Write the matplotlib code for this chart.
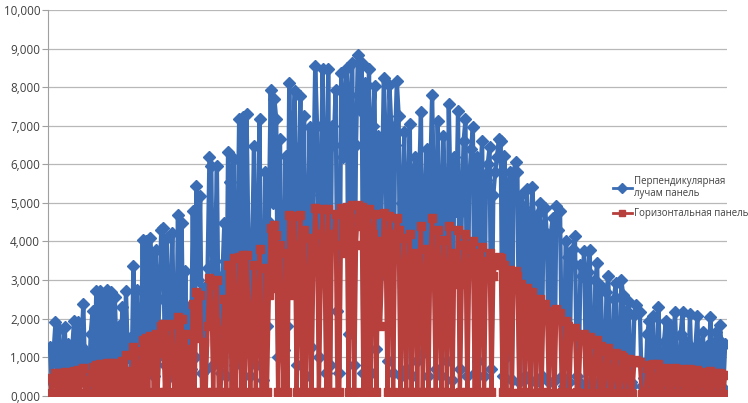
import numpy as np
import matplotlib
matplotlib.use("Agg")
import matplotlib.pyplot as plt

plt.rcParams['font.family'] = ['Open Sans', 'DejaVu Sans']

# daily totals, day 0..364
perpendicular = [
    1260, 350, 1150, 1900, 450, 1720, 300, 1100, 1770, 400,
    1340, 250, 1200, 1950, 650, 1900, 350, 1300, 2370, 500,
    1100, 300, 1600, 2210, 400, 2720, 350, 2720, 450, 2650,
    350, 2750, 500, 2700, 300, 2550, 900, 1800, 300, 2290,
    450, 2720, 1000, 1500, 400, 3370, 700, 2750, 1100, 500,
    4040, 600, 4010, 800, 4090, 3390, 500, 3780, 1000, 2500,
    4290, 4340, 800, 4090, 500, 2500, 4220, 1000, 400, 4680,
    1300, 4470, 600, 3240, 500, 2300, 700, 4780, 1000, 5450,
    3000, 5190, 600, 2800, 700, 3300, 6200, 5960, 800, 3500,
    5960, 1400, 600, 3100, 4470, 500, 6320, 5550, 1200, 6140,
    800, 3600, 7170, 1000, 7220, 1500, 7300, 4000, 500, 3700,
    6480, 800, 3800, 7170, 1200, 400, 5810, 1800, 4500, 7940,
    5000, 7690, 7170, 1000, 6660, 3000, 1180, 6220, 1800, 8120,
    4500, 6500, 7900, 800, 5000, 7760, 1400, 7250, 500, 4200,
    6960, 1260, 5500, 8540, 7000, 1000, 5200, 8460, 6000, 600,
    8460, 800, 7000, 6500, 7940, 2200, 600, 8380, 6200, 7500,
    8510, 1600, 7800, 8630, 800, 6500, 8840, 7400, 8630, 600,
    8120, 2800, 8460, 600, 7000, 8030, 1200, 6740, 3100, 5500,
    8250, 6500, 900, 8070, 7000, 600, 6500, 8150, 7250, 500,
    5000, 6840, 700, 5200, 7040, 500, 5800, 6200, 900, 5500,
    7350, 1100, 4800, 6400, 500, 5600, 7810, 5200, 700, 7120,
    5000, 500, 6740, 4800, 900, 7560, 5000, 400, 6200, 4800,
    7380, 700, 4800, 6600, 7170, 500, 5500, 6400, 6960, 600,
    6200, 900, 5800, 6610, 500, 5600, 6000, 6450, 700, 5200,
    5800, 6200, 6660, 6600, 500, 6220, 1000, 5400, 5800, 400,
    5800, 6070, 5810, 350, 5200, 4900, 500, 5370, 4400, 400,
    5420, 4500, 350, 4700, 4990, 500, 4300, 4860, 4000, 350,
    4200, 4600, 400, 4910, 4300, 4780, 500, 250, 4010, 3600,
    350, 3500, 3800, 4140, 500, 350, 3400, 3100, 3750, 250,
    3200, 3780, 400, 250, 3000, 3440, 300, 2850, 450, 250,
    2700, 3110, 400, 250, 2500, 2930, 300, 200, 3010, 2600,
    300, 2200, 2420, 350, 250, 2100, 2340, 2160, 2160, 250,
    450, 200, 1600, 1950, 250, 2080, 450, 200, 2290, 400,
    200, 1400, 1950, 250, 1830, 200, 1500, 2160, 300, 200,
    1600, 2160, 250, 1400, 200, 2110, 450, 200, 1300, 2080,
    200, 1200, 1650, 200, 1300, 350, 2030, 200, 1200, 1650,
    300, 1830, 1390, 200, 1350,
]

horizontal = [
    450, 60, 380, 600, 80, 580, 50, 400, 620, 70,
    550, 40, 420, 650, 90, 660, 60, 500, 720, 80,
    400, 50, 560, 740, 70, 800, 60, 820, 80, 800,
    60, 850, 90, 860, 50, 850, 100, 700, 50, 900,
    80, 1050, 100, 650, 70, 1260, 90, 1150, 100, 80,
    1450, 90, 1500, 100, 1550, 1300, 80, 1600, 100, 1100,
    1800, 1850, 100, 1800, 80, 1200, 1850, 100, 70, 2030,
    100, 2000, 90, 1600, 80, 1200, 100, 2370, 100, 2700,
    1500, 2600, 90, 1400, 100, 1800, 3060, 2880, 100, 1900,
    3000, 100, 90, 1700, 2500, 80, 3400, 3100, 100, 3570,
    100, 2000, 3600, 100, 3650, 100, 3650, 2300, 80, 2100,
    3400, 100, 2200, 3800, 100, 70, 3300, 100, 2600, 4340,
    2800, 4420, 4160, 100, 3900, 1800, 90, 3700, 100, 4680,
    2600, 3900, 4650, 100, 3000, 4680, 100, 4300, 80, 2500,
    4100, 100, 3300, 4860, 4200, 100, 3100, 4850, 3600, 90,
    4850, 100, 4200, 3900, 4700, 100, 90, 4880, 3700, 4500,
    4900, 100, 4600, 4940, 100, 3900, 4940, 4400, 4900, 90,
    4750, 100, 4850, 90, 4200, 4700, 100, 4000, 1800, 3300,
    4750, 3900, 100, 4650, 4200, 90, 3900, 4600, 4300, 80,
    2900, 4100, 100, 3100, 4200, 90, 3500, 3700, 100, 3300,
    4400, 100, 2900, 3800, 90, 3400, 4600, 3100, 100, 4300,
    3000, 90, 4050, 2900, 100, 4400, 3000, 80, 3700, 2900,
    4300, 100, 2900, 3900, 4200, 90, 3300, 3800, 4000, 100,
    3700, 100, 3400, 3850, 90, 3300, 3500, 3700, 100, 3100,
    3400, 3550, 3600, 3570, 90, 3400, 100, 3100, 3250, 80,
    3200, 3240, 3100, 60, 2900, 2700, 90, 2800, 2400, 80,
    2700, 2400, 60, 2450, 2500, 90, 2300, 2370, 2100, 60,
    2100, 2200, 80, 2250, 2100, 2150, 90, 50, 1950, 1800,
    60, 1650, 1700, 1750, 90, 60, 1550, 1450, 1600, 50,
    1400, 1520, 80, 50, 1350, 1450, 60, 1300, 90, 50,
    1150, 1250, 80, 50, 1050, 1100, 60, 40, 1050, 1000,
    60, 900, 950, 80, 50, 880, 920, 880, 870, 50,
    90, 40, 720, 800, 50, 820, 90, 40, 830, 80,
    40, 620, 720, 50, 700, 40, 640, 720, 60, 40,
    600, 700, 50, 600, 40, 690, 90, 40, 560, 660,
    40, 520, 620, 40, 560, 60, 650, 40, 520, 600,
    50, 600, 560, 40, 550,
]

labels = ["Перпендикулярная\nлучам панель", "Горизонтальная панель"]
y_ticks = [0, 1000, 2000, 3000, 4000, 5000, 6000, 7000, 8000, 9000, 10000]
y_ticklabels = ["0,000", "1,000", "2,000", "3,000", "4,000", "5,000",
                "6,000", "7,000", "8,000", "9,000", "10,000"]

days = np.arange(len(perpendicular))

fig = plt.figure(figsize=(7.48, 4.03), dpi=100)
ax = fig.add_axes([0.064, 0.018, 0.908, 0.957])

blue = "#3b6db4"
red = "#b7403d"
ax.plot(days, perpendicular, color=blue, lw=3.1, marker="D", ms=6.0,
        mec=blue, mfc=blue, label=labels[0], zorder=3)
ax.plot(days, horizontal, color=red, lw=3.1, marker="s", ms=5.5,
        mec=red, mfc=red, label=labels[1], zorder=4)

ax.set_xlim(-1.1, 365)
ax.set_ylim(0, 10000)
ax.set_yticks(y_ticks)
ax.set_yticklabels(y_ticklabels, fontsize=8.4, color="#404040")
ax.set_xticks([])
ax.yaxis.grid(True, color="#b8b8b8", lw=0.9)
ax.set_axisbelow(True)
for s in ["top", "right", "bottom"]:
    ax.spines[s].set_visible(False)
ax.spines["left"].set_color("#a0a0a0")
ax.tick_params(axis="y", length=4, color="#a0a0a0", pad=1.5)

leg = ax.legend(loc="upper left", bbox_to_anchor=(0.826, 0.58),
                frameon=False, fontsize=6.9, handlelength=2.0,
                handletextpad=0.2, labelspacing=0.9, borderaxespad=0)
for line in leg.get_lines():
    line.set_linewidth(2.0)
    line.set_markersize(5.0)
for t in leg.get_texts():
    t.set_color("#404040")

fig.savefig("out.png", dpi=100)
